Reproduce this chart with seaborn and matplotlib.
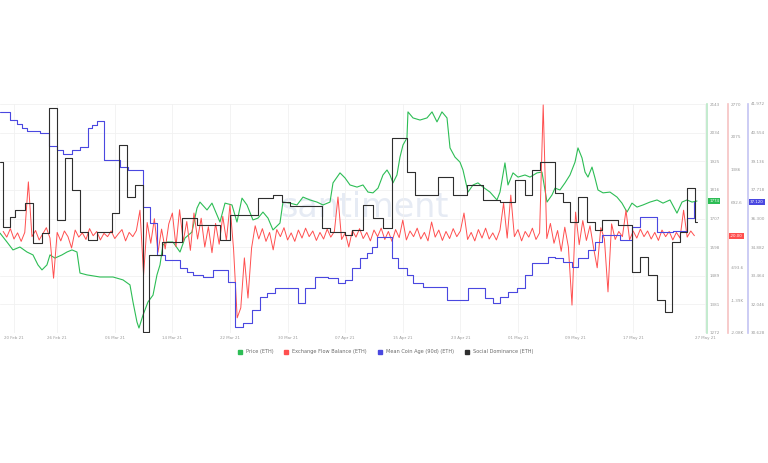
import pandas as pd
import numpy as np
import matplotlib.pyplot as plt
import matplotlib.transforms as mtransforms
from matplotlib.lines import Line2D
import seaborn as sns

start = pd.Timestamp("2021-02-20")

# Price (ETH), x = days after 20 Feb 21
price_days = [-1.94, -0.97, -0.14, 0.83, 1.81, 2.64, 3.33, 3.89, 4.58, 5.0,
              5.69, 6.67, 7.36, 8.06, 8.75, 9.17, 10.14, 11.94, 13.75, 15.14,
              16.11, 16.53, 17.08, 17.36, 17.92, 18.61, 19.31, 19.86, 20.28, 20.69,
              21.25, 22.08, 23.06, 23.75, 24.72, 25.42, 25.83, 26.81, 27.5, 28.19,
              28.61, 29.31, 30.28, 30.97, 31.67, 32.36, 33.19, 33.89, 34.58, 35.28,
              35.97, 36.94, 37.36, 38.33, 39.31, 40.14, 41.11, 42.08, 42.92, 43.89,
              44.31, 45.28, 45.97, 46.67, 47.64, 48.47, 49.17, 49.86, 50.56, 51.25,
              51.81, 52.22, 52.64, 53.19, 53.61, 54.03, 54.58, 54.72, 55.42, 56.39,
              57.36, 58.06, 58.75, 59.44, 60.14, 60.56, 61.25, 61.94, 62.36, 63.06,
              63.75, 64.44, 65.14, 66.11, 67.08, 67.5, 68.19, 68.61, 69.31, 70.0,
              70.97, 71.67, 72.64, 73.33, 74.03, 74.72, 75.14, 75.83, 76.53, 77.22,
              77.92, 78.33, 78.89, 79.31, 79.72, 80.28, 80.69, 81.11, 81.81, 82.78,
              83.75, 84.44, 85.14, 85.83, 86.53, 87.36, 88.33, 89.31, 90.14, 91.11,
              92.08, 92.78, 93.47, 94.17, 94.86]
price_vals = [1652, 1618, 1588, 1599, 1580, 1569, 1531, 1512, 1531, 1569,
              1557, 1569, 1580, 1588, 1580, 1500, 1493, 1485, 1485, 1474,
              1455, 1390, 1314, 1291, 1340, 1390, 1416, 1493, 1531, 1607,
              1618, 1618, 1580, 1633, 1656, 1747, 1770, 1740, 1766, 1721,
              1694, 1766, 1759, 1694, 1785, 1759, 1702, 1709, 1732, 1709,
              1664, 1690, 1770, 1766, 1759, 1789, 1778, 1770, 1759, 1770,
              1843, 1881, 1862, 1835, 1827, 1835, 1808, 1805, 1823, 1873,
              1892, 1873, 1843, 1873, 1941, 1987, 2014, 2113, 2090, 2082,
              2090, 2113, 2075, 2113, 2090, 1976, 1941, 1922, 1892, 1808,
              1835, 1843, 1827, 1808, 1778, 1808, 1919, 1835, 1881, 1865,
              1873, 1865, 1881, 1884, 1770, 1797, 1823, 1816, 1843, 1873,
              1922, 1976, 1938, 1884, 1865, 1903, 1862, 1816, 1805, 1808,
              1789, 1766, 1732, 1766, 1751, 1759, 1770, 1778, 1766, 1778,
              1728, 1770, 1778, 1770, 1774]

# Exchange Flow Balance (ETH), every 12h from 18 Feb 21 12:00
flow_vals = [70, -50, 130, -90, 40, -140, 50, 1120, -40, 90,
             -110, 20, 150, -70, -920, 50, -130, 80, -40, -280,
             100, -50, 40, -100, 130, -20, 70, -110, 30, -40,
             80, -80, 20, 110, -130, 50, -40, 90, 520, -850,
             260, -180, 340, -370, 120, -300, 230, 460, -250, 530,
             -140, 280, -330, 460, -90, 350, -260, 170, -380, 240,
             -200, 390, -120, 630, -310, -1760, -1550, -490, -1340, -280,
             190, -90, 130, -140, 50, -320, 110, -40, 150, -110,
             40, -140, 100, -70, 140, -40, 80, -120, 50, -90,
             120, -50, 70, 800, -100, 40, -260, 90, -50, 130,
             -80, 50, -130, 100, -40, 140, -100, 70, -140, 110,
             -60, 310, -110, 80, -40, 140, -90, 50, -130, 270,
             -50, 100, -120, 70, -80, 130, -40, 80, 460, -100,
             50, -130, 110, -70, 140, -90, 40, -110, 100, 670,
             -70, 840, -40, 110, -130, 70, -50, 140, -100, 40,
             2750, -80, 240, -180, 90, -350, 160, -260, -1490, 480,
             -210, 300, -120, 190, -280, -700, 150, -90, -1210, 230,
             -100, 70, -40, 520, -110, 80, -70, 120, -40, 80,
             -90, 50, -120, 100, -40, 70, -110, 50, -70, 520,
             -50, 80, -20]

# Mean Coin Age (90d), step series: day of change, new value
age_days = [-1.94, -0.56, 0.42, 1.11, 1.81, 3.61, 4.86, 5.97, 6.81, 8.06,
            9.17, 10.28, 10.83, 11.53, 12.5, 14.72, 15.83, 17.92, 18.89, 19.86,
            20.97, 23.06, 24.03, 24.86, 26.25, 27.64, 29.72, 30.69, 31.81, 33.06,
            34.17, 35.14, 36.25, 39.44, 40.42, 41.81, 43.61, 45.0, 45.97, 46.94,
            48.06, 49.03, 49.72, 50.42, 52.5, 53.33, 54.58, 55.42, 56.81, 60.14,
            63.06, 65.42, 66.53, 67.5, 68.61, 69.86, 70.97, 71.94, 74.17, 75.14,
            76.25, 77.5, 78.33, 79.72, 80.69, 81.67, 84.17, 85.83, 86.94, 89.31,
            91.53, 93.47, 94.44, 94.6]
age_vals = [41.58, 41.18, 40.98, 40.78, 40.63, 40.54, 39.90, 39.69, 39.50, 39.69,
            39.84, 40.78, 40.93, 41.13, 39.20, 38.85, 38.70, 36.87, 36.08, 34.49,
            34.24, 33.85, 33.65, 33.50, 33.40, 33.75, 33.15, 30.92, 31.12, 31.77,
            32.41, 32.61, 32.86, 32.11, 32.86, 33.40, 33.35, 33.10, 33.25, 33.85,
            34.34, 34.59, 34.89, 35.38, 34.34, 33.85, 33.50, 33.10, 32.91, 32.26,
            32.86, 32.36, 32.11, 32.41, 32.66, 32.86, 33.50, 34.10, 34.39, 34.34,
            34.15, 33.90, 34.34, 34.74, 35.14, 35.48, 35.23, 35.88, 36.37, 35.63,
            35.68, 36.32, 37.12, 37.12]

# Social Dominance (ETH), step series
dom_days = [-1.94, -1.53, -0.56, 0.14, 1.53, 2.64, 3.89, 4.86, 5.97, 7.08,
            8.06, 9.17, 10.28, 11.53, 13.61, 14.58, 15.69, 16.81, 17.92, 18.75,
            20.56, 23.33, 25.42, 28.61, 30.0, 33.89, 35.97, 37.22, 38.33, 42.78,
            43.89, 45.97, 46.94, 48.47, 49.86, 51.25, 52.5, 54.58, 55.69, 58.89,
            61.0, 62.92, 65.14, 67.5, 69.58, 70.97, 71.94, 73.06, 75.14, 76.25,
            77.22, 78.33, 79.58, 80.69, 81.67, 83.89, 85.83, 86.94, 88.06, 89.31,
            90.42, 91.39, 92.5, 93.47, 94.58, 94.86]
dom_vals = [14.96, 11.55, 12.08, 12.45, 12.81, 10.72, 11.24, 17.79, 11.92, 15.17,
            13.49, 11.29, 10.87, 11.29, 12.29, 15.85, 13.13, 13.76, 6.05, 10.09,
            10.77, 12.03, 11.66, 10.87, 12.18, 13.07, 13.23, 12.86, 12.66, 11.50,
            11.29, 11.14, 11.40, 12.71, 12.03, 11.50, 16.22, 14.44, 13.23, 14.17,
            13.23, 13.76, 12.97, 12.86, 14.02, 13.23, 14.54, 14.96, 13.34, 12.86,
            11.82, 13.13, 11.82, 11.40, 11.92, 11.66, 9.20, 9.98, 9.04, 7.73,
            7.10, 10.77, 11.29, 13.60, 11.82, 11.82]

tick_dates = ["2021-02-20", "2021-02-26", "2021-03-06", "2021-03-14", "2021-03-22",
              "2021-03-30", "2021-04-07", "2021-04-15", "2021-04-23", "2021-05-01",
              "2021-05-09", "2021-05-17", "2021-05-27"]
green_ticks = [1272, 1381, 1489, 1598, 1707, 1816, 1925, 2034, 2143]
red_ticks = [-2081, -1388, -693.6, 692.6, 1386, 2075, 2770]
red_labels = ["-2.08K", "-1.39K", "-693.6", "692.6", "1386", "2075", "2770"]
blue_ticks = [30.628, 32.046, 33.464, 34.882, 36.300, 37.718, 39.136, 40.554, 41.972]

GREEN = "#2dbd55"
RED = "#ff4f4f"
BLUE = "#4a48e0"
BLACK = "#2e2e2e"
TXT = "#9a9a9a"

sns.set_style("white")
plt.rcParams["font.family"] = ["DejaVu Sans"]

fig = plt.figure(figsize=(7.68, 4.63), dpi=100)
ax = fig.add_axes([0, 1 - 333 / 463, 707 / 768, 229 / 463])
ax_red = ax.twinx()
ax_blue = ax.twinx()
ax_dom = ax.twinx()

def to_dates(days):
    return start + pd.to_timedelta(np.array(days, dtype=float), unit="D")

flow_dates = start + pd.to_timedelta(-1.5 + 0.5 * np.arange(len(flow_vals)), unit="D")

sns.lineplot(x=to_dates(price_days), y=price_vals, ax=ax, color=GREEN, linewidth=0.8)
sns.lineplot(x=flow_dates, y=flow_vals, ax=ax_red, color=RED, linewidth=0.7)
sns.lineplot(x=to_dates(age_days), y=age_vals, ax=ax_blue, color=BLUE, linewidth=0.8,
             drawstyle="steps-post")
sns.lineplot(x=to_dates(dom_days), y=dom_vals, ax=ax_dom, color=BLACK, linewidth=0.8,
             drawstyle="steps-post")

xmin = start + pd.Timedelta(days=-1.94)
xmax = start + pd.Timedelta(days=96.25)
ax.set_xlim(xmin, xmax)
ax.set_ylim(1272, 2143)
ax_red.set_ylim(-2081, 2770)
ax_blue.set_ylim(30.628, 41.972)
ax_dom.set_ylim(6.0, 18.0)

for a in (ax, ax_red, ax_blue, ax_dom):
    for s in a.spines.values():
        s.set_visible(False)
    a.set_xlabel("")
    a.set_ylabel("")

ax.spines["right"].set_visible(True)
ax.spines["right"].set_color("#b9e8c6")
ax.spines["right"].set_linewidth(1.2)
ax_red.spines["right"].set_visible(True)
ax_red.spines["right"].set_position(("axes", 728 / 707))
ax_red.spines["right"].set_color("#f6c2c2")
ax_red.spines["right"].set_linewidth(1.2)
ax_blue.spines["right"].set_visible(True)
ax_blue.spines["right"].set_position(("axes", 748 / 707))
ax_blue.spines["right"].set_color("#c4c4f2")
ax_blue.spines["right"].set_linewidth(1.2)

ax.yaxis.tick_right()
ax.set_yticks(green_ticks)
ax.set_yticklabels([str(t) for t in green_ticks])
ax_red.set_yticks(red_ticks)
ax_red.set_yticklabels(red_labels)
ax_blue.set_yticks(blue_ticks)
ax_blue.set_yticklabels([f"{t:.3f}" for t in blue_ticks])
ax_dom.set_yticks([])

for a in (ax, ax_red, ax_blue):
    a.tick_params(axis="y", length=0, pad=2, labelsize=3.0, labelcolor=TXT)

ax.set_xticks(pd.to_datetime(tick_dates))
ax.set_xticklabels(pd.to_datetime(tick_dates).strftime("%d %b %y"))
ax.tick_params(axis="x", length=0, pad=2, labelsize=2.9, labelcolor=TXT)

ax.grid(True, color="#f1f1f1", linewidth=0.6)
ax.set_axisbelow(True)

ax.text(0.516, 0.546, "santiment", transform=ax.transAxes, ha="center", va="center",
        fontsize=24, color="#e6ebf4", zorder=0)

# value badges
def badge(axis, xpos, value, text, color):
    tr = mtransforms.blended_transform_factory(ax.transAxes, axis.transData)
    axis.annotate(text, xy=(xpos, value), xycoords=tr, xytext=(1.5, 0),
                  textcoords="offset points", ha="left", va="center",
                  fontsize=2.9, color="white", annotation_clip=False,
                  bbox=dict(boxstyle="square,pad=0.25", fc=color, ec="none"))

badge(ax, 1.0, price_vals[-1], str(price_vals[-1]), GREEN)
badge(ax_red, 728 / 707, flow_vals[-1], f"{flow_vals[-1]:.2f}", RED)
badge(ax_blue, 748 / 707, age_vals[-1], f"{age_vals[-1]:.3f}", BLUE)

handles = [Line2D([], [], marker="s", linestyle="none", color=c, markersize=2.6)
           for c in (GREEN, RED, BLUE, BLACK)]
labels = ["Price (ETH)", "Exchange Flow Balance (ETH)", "Mean Coin Age (90d) (ETH)",
          "Social Dominance (ETH)"]
fig.legend(handles, labels, loc="center", bbox_to_anchor=(384 / 768, 1 - 352 / 463),
           ncol=4, frameon=False, fontsize=3.6, handletextpad=0.2, columnspacing=1.6,
           labelcolor="#6a6a6a")

fig.savefig("out.png", dpi=100)
